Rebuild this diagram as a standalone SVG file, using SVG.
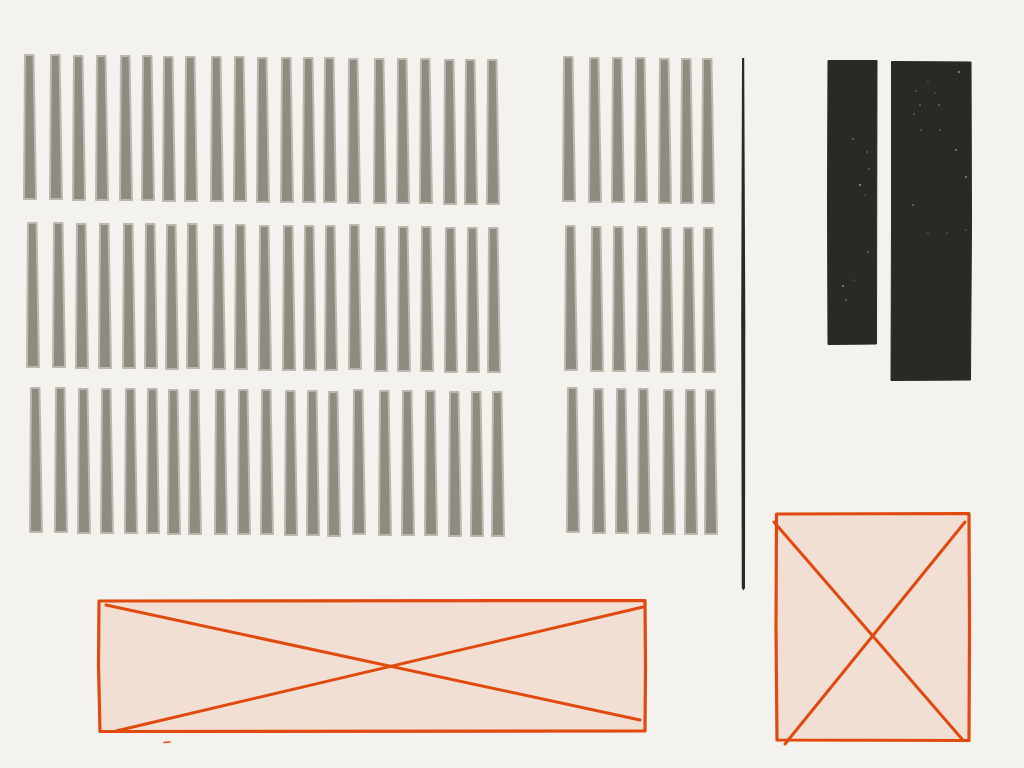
<svg xmlns="http://www.w3.org/2000/svg" xmlns:xlink="http://www.w3.org/1999/xlink" width="1024" height="768" viewBox="0 0 1024 768">
<style>
.bar{fill:#8e8b81;stroke:#bcb8ae;stroke-width:2;stroke-linejoin:round}
.dark{fill:#2a2925;stroke:#2a2925;stroke-width:1}
.spk{fill:#9a988f}
.box{fill:#f2dfd4;stroke:#e04a0e;stroke-width:3.2;stroke-linejoin:round}
.x{fill:none;stroke:#e04a0e;stroke-width:3;stroke-linecap:round}
</style>
<defs>
<path id="b" d="M1,0 L9.5,0 L12,144 L0,144 Z" class="bar"/>
</defs>
<rect width="1024" height="768" fill="#f4f2ee"/>
<g id="bars-left-row1">
<use href="#b" x="24" y="55"/><use href="#b" x="50" y="55"/><use href="#b" x="73" y="56"/><use href="#b" x="96" y="56"/><use href="#b" x="120" y="56"/><use href="#b" x="142" y="56"/><use href="#b" x="163" y="57"/><use href="#b" x="185" y="57"/><use href="#b" x="211" y="57"/><use href="#b" x="234" y="57"/><use href="#b" x="257" y="58"/><use href="#b" x="281" y="58"/><use href="#b" x="303" y="58"/><use href="#b" x="324" y="58"/><use href="#b" x="348" y="59"/><use href="#b" x="374" y="59"/><use href="#b" x="397" y="59"/><use href="#b" x="420" y="59"/><use href="#b" x="444" y="60"/><use href="#b" x="465" y="60"/><use href="#b" x="487" y="60"/>
</g>
<g id="bars-left-row2">
<use href="#b" x="27" y="223"/><use href="#b" x="53" y="223"/><use href="#b" x="76" y="224"/><use href="#b" x="99" y="224"/><use href="#b" x="123" y="224"/><use href="#b" x="145" y="224"/><use href="#b" x="166" y="225"/><use href="#b" x="187" y="224"/><use href="#b" x="213" y="225"/><use href="#b" x="235" y="225"/><use href="#b" x="259" y="226"/><use href="#b" x="283" y="226"/><use href="#b" x="304" y="226"/><use href="#b" x="325" y="226"/><use href="#b" x="349" y="225"/><use href="#b" x="375" y="227"/><use href="#b" x="398" y="227"/><use href="#b" x="421" y="227"/><use href="#b" x="445" y="228"/><use href="#b" x="467" y="228"/><use href="#b" x="488" y="228"/>
</g>
<g id="bars-left-row3">
<use href="#b" x="30" y="388"/><use href="#b" x="55" y="388"/><use href="#b" x="78" y="389"/><use href="#b" x="101" y="389"/><use href="#b" x="125" y="389"/><use href="#b" x="147" y="389"/><use href="#b" x="168" y="390"/><use href="#b" x="189" y="390"/><use href="#b" x="215" y="390"/><use href="#b" x="238" y="390"/><use href="#b" x="261" y="390"/><use href="#b" x="285" y="391"/><use href="#b" x="307" y="391"/><use href="#b" x="328" y="392"/><use href="#b" x="353" y="390"/><use href="#b" x="379" y="391"/><use href="#b" x="402" y="391"/><use href="#b" x="425" y="391"/><use href="#b" x="449" y="392"/><use href="#b" x="471" y="392"/><use href="#b" x="492" y="392"/>
</g>
<g id="bars-right-row1">
<use href="#b" x="563" y="57"/><use href="#b" x="589" y="58"/><use href="#b" x="612" y="58"/><use href="#b" x="635" y="58"/><use href="#b" x="659" y="59"/><use href="#b" x="681" y="59"/><use href="#b" x="702" y="59"/>
</g>
<g id="bars-right-row2">
<use href="#b" x="565" y="226"/><use href="#b" x="591" y="227"/><use href="#b" x="613" y="227"/><use href="#b" x="637" y="227"/><use href="#b" x="661" y="228"/><use href="#b" x="683" y="228"/><use href="#b" x="703" y="228"/>
</g>
<g id="bars-right-row3">
<use href="#b" x="567" y="388"/><use href="#b" x="593" y="389"/><use href="#b" x="616" y="389"/><use href="#b" x="638" y="389"/><use href="#b" x="663" y="390"/><use href="#b" x="685" y="390"/><use href="#b" x="705" y="390"/>
</g>
<g id="divider">
<path d="M742,58 L744.2,58 L745.3,320 L745,588 L743.4,590.5 L741.8,588 L741.2,320 Z" fill="#2a2926"/>
</g>
<g id="dark-left">
<path class="dark" d="M828,60.5 L877,60.5 L876.5,344 L828,344.5 L827.5,200 Z"/>
<circle class="spk" cx="860" cy="185" r="1"/><circle class="spk" cx="853" cy="139" r="0.8"/><circle class="spk" cx="867" cy="152" r="0.7"/><circle class="spk" cx="869" cy="169" r="0.7"/><circle class="spk" cx="868" cy="252" r="0.8"/><circle class="spk" cx="843" cy="286" r="0.9"/><circle class="spk" cx="846" cy="300" r="0.8"/><circle class="spk" cx="865" cy="195" r="0.6"/><circle class="spk" cx="854" cy="280" r="0.6"/>
</g>
<g id="dark-right">
<path class="dark" d="M891.5,61.5 L971,62 L971.5,220 L970.5,380 L891,380.5 L891.5,220 Z"/>
<circle class="spk" cx="959" cy="72" r="0.9"/><circle class="spk" cx="916" cy="91" r="0.7"/><circle class="spk" cx="920" cy="105" r="0.8"/><circle class="spk" cx="939" cy="105" r="0.8"/><circle class="spk" cx="914" cy="114" r="0.7"/><circle class="spk" cx="921" cy="130" r="0.7"/><circle class="spk" cx="940" cy="130" r="0.7"/><circle class="spk" cx="956" cy="150" r="0.9"/><circle class="spk" cx="966" cy="177" r="0.9"/><circle class="spk" cx="913" cy="205" r="0.8"/><circle class="spk" cx="928" cy="233" r="0.6"/><circle class="spk" cx="947" cy="233" r="0.6"/><circle class="spk" cx="966" cy="230" r="0.6"/><circle class="spk" cx="928" cy="82" r="0.6"/><circle class="spk" cx="935" cy="93" r="0.6"/>
</g>
<g id="placeholder-wide">
<path class="box" d="M99,601 L645,600.5 L645.5,666 L645,731 L100,731.5 L98.5,666 Z"/>
<path class="x" d="M106,605 L640,720"/>
<path class="x" d="M116,731 L643,607"/>
<path d="M164,742.5 L170,742" stroke="#e04a0e" stroke-width="1.5" fill="none" stroke-linecap="round"/>
</g>
<g id="placeholder-square">
<path class="box" d="M776.5,514 L969,513.5 L969.5,628 L969,740.5 L777,740 L776,628 Z"/>
<path class="x" d="M774,522 L962,739"/>
<path class="x" d="M785,744 L965,522"/>
</g>
</svg>
